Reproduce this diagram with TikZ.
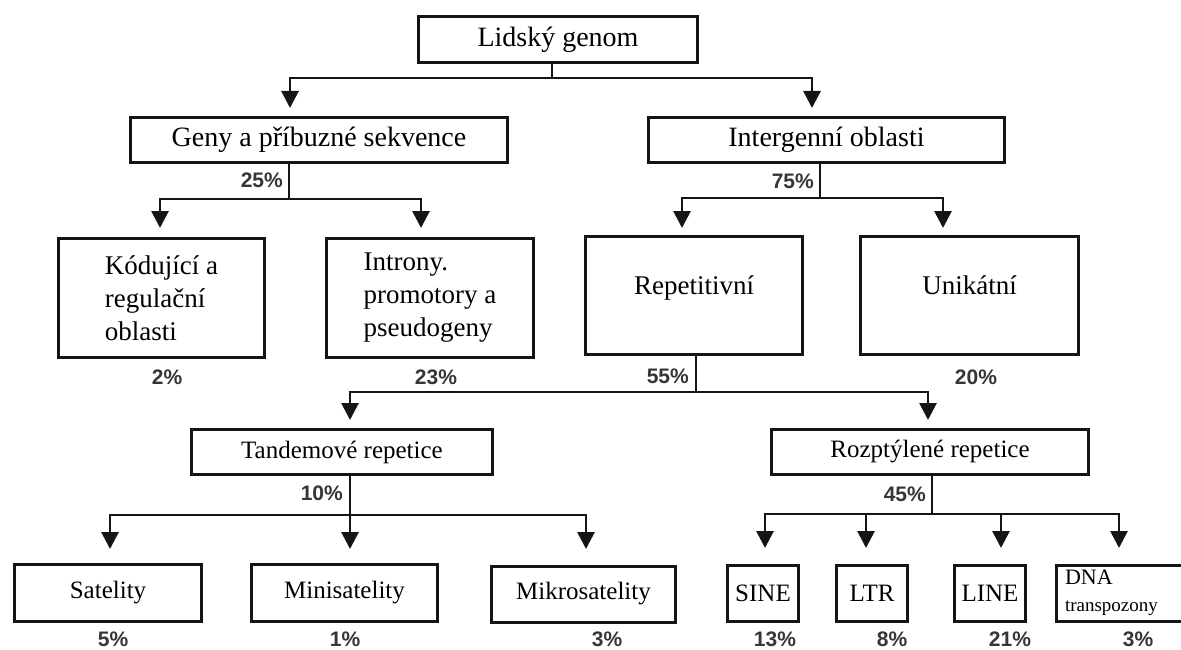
\documentclass[tikz,border=0pt]{standalone}
\usepackage{fontspec}
\setmainfont{Liberation Serif}
\newfontfamily\pctfont{Liberation Sans}
\usetikzlibrary{arrows.meta}
\definecolor{ink}{HTML}{151515}
\definecolor{pctgray}{HTML}{363636}
\tikzset{
  boxnode/.style={draw=ink, line width=3pt, inner sep=0pt, text=black, align=center},
  conn/.style={draw=ink, line width=2.8pt},
  arr/.style={conn, -{Triangle[width=17pt,length=17pt]}},
  pct/.style={font=\pctfont\bfseries\fontsize{21}{23}\selectfont, text=pctgray, inner sep=0pt},
  fbig/.style={font=\fontsize{28}{33}\selectfont},
  fmid/.style={font=\fontsize{27}{33}\selectfont},
  fsmall/.style={font=\fontsize{25}{30}\selectfont},
}
\begin{document}
\begin{tikzpicture}[x=1pt,y=-1pt]
\useasboundingbox (0,0) rectangle (1181,650);
\clip (0,0) rectangle (1181,650);
\fill[white] (0,0) rectangle (1181,650);

% level 0
\node[boxnode, fbig, minimum width=279pt, minimum height=46pt] (top) at (558,39.5) {Lidský genom};
% level 1
\node[boxnode, fbig, minimum width=377pt, minimum height=45pt] (geny) at (319,140) {Geny a příbuzné sekvence};
\node[boxnode, fbig, minimum width=356pt, minimum height=45pt] (inter) at (826.5,140) {Intergenní oblasti};
% level 2
\node[boxnode, fmid, minimum width=206pt, minimum height=119pt, align=left] (kod) at (161.5,298) {Kódující a\\regulační\\oblasti};
\node[boxnode, fmid, minimum width=207pt, minimum height=119pt, align=left] (intr) at (430,298) {Introny.\\promotory a\\pseudogeny};
\node[boxnode, fmid, minimum width=217pt, minimum height=118pt, text height=20pt, text depth=22pt] (rep) at (694,295.5) {Repetitivní};
\node[boxnode, fmid, minimum width=218pt, minimum height=118pt, text height=20pt, text depth=22pt] (uni) at (969.5,295.5) {Unikátní};
% level 3
\node[boxnode, fsmall, minimum width=301pt, minimum height=45pt] (tand) at (342,452) {Tandemové repetice};
\node[boxnode, fsmall, minimum width=317pt, minimum height=45pt] (rozp) at (930,452) {Rozptýlené repetice};
% level 4
\node[boxnode, fsmall, minimum width=187pt, minimum height=57pt] (sat) at (108,593) {Satelity};
\node[boxnode, fsmall, minimum width=186pt, minimum height=57pt] (mini) at (344.5,593) {Minisatelity};
\node[boxnode, fsmall, minimum width=184pt, minimum height=56pt] (mikro) at (583.5,594) {Mikrosatelity};
\node[boxnode, fsmall, minimum width=71pt, minimum height=56pt] (sine) at (763,593.5) {SINE};
\node[boxnode, fsmall, minimum width=71pt, minimum height=56pt] (ltr) at (872,593.5) {LTR};
\node[boxnode, fsmall, minimum width=71pt, minimum height=56pt] (linebox) at (990,593.5) {LINE};
\node[boxnode, anchor=west, minimum height=56pt, inner xsep=9pt, text width=122pt, align=left,
      font=\fontsize{22}{26}\selectfont] (dna) at (1054.5,593) {DNA\\[1pt]{\fontsize{19}{22}\selectfont transpozony}};

% junctions and arrow tips
\coordinate (j0) at (552,78);
\coordinate (aGeny) at (290,108);
\coordinate (aInter) at (812,108);
\coordinate (j1) at (289,199);
\coordinate (aKod) at (160,228);
\coordinate (aIntr) at (421,228);
\coordinate (j2) at (820,198);
\coordinate (aRep) at (682,228);
\coordinate (aUni) at (943,228);
\coordinate (j3) at (696,392);
\coordinate (aTand) at (350,420);
\coordinate (aRozp) at (928,420);
\coordinate (j4) at (350,515);
\coordinate (aSat) at (110,549);
\coordinate (aMini) at (350,549);
\coordinate (aMikro) at (586,549);
\coordinate (j5) at (932,514);
\coordinate (aSine) at (765,548);
\coordinate (aLtr) at (866,548);
\coordinate (aLine) at (1001,548);
\coordinate (aDna) at (1119,548);

% connectors
\draw[conn] (top.south -| j0) -- (j0);
\draw[arr] (j0) -| (aGeny);
\draw[arr] (j0) -| (aInter);

\draw[conn] (geny.south -| j1) -- (j1);
\draw[arr] (j1) -| (aKod);
\draw[arr] (j1) -| (aIntr);

\draw[conn] (inter.south -| j2) -- (j2);
\draw[arr] (j2) -| (aRep);
\draw[arr] (j2) -| (aUni);

\draw[conn] (rep.south -| j3) -- (j3);
\draw[arr] (j3) -| (aTand);
\draw[arr] (j3) -| (aRozp);

\draw[conn] (tand.south -| j4) -- (j4);
\draw[arr] (j4) -| (aSat);
\draw[arr] (j4) -- (aMini);
\draw[arr] (j4) -| (aMikro);

\draw[conn] (rozp.south -| j5) -- (j5);
\draw[arr] (j5) -| (aSine);
\draw[arr] (j5) -| (aLtr);
\draw[arr] (j5) -| (aLine);
\draw[arr] (j5) -| (aDna);

% percentages
\node[pct, anchor=east] (p25) at (283,180) {25\%};
\node[pct, anchor=east] (p75) at (814,181) {75\%};
\node[pct] (p2) at (167,377) {2\%};
\node[pct] (p23) at (436,377) {23\%};
\node[pct, anchor=east] (p55) at (689,376) {55\%};
\node[pct] (p20) at (976,377) {20\%};
\node[pct, anchor=east] (p10) at (343,493) {10\%};
\node[pct, anchor=east] (p45) at (926,494) {45\%};
\node[pct] (p5) at (113,639) {5\%};
\node[pct] (p1) at (345,639) {1\%};
\node[pct] (p3a) at (607,639) {3\%};
\node[pct] (p13) at (775,639) {13\%};
\node[pct] (p8) at (892,639) {8\%};
\node[pct] (p21) at (1010,639) {21\%};
\node[pct] (p3b) at (1138,639) {3\%};
\end{tikzpicture}
\end{document}
